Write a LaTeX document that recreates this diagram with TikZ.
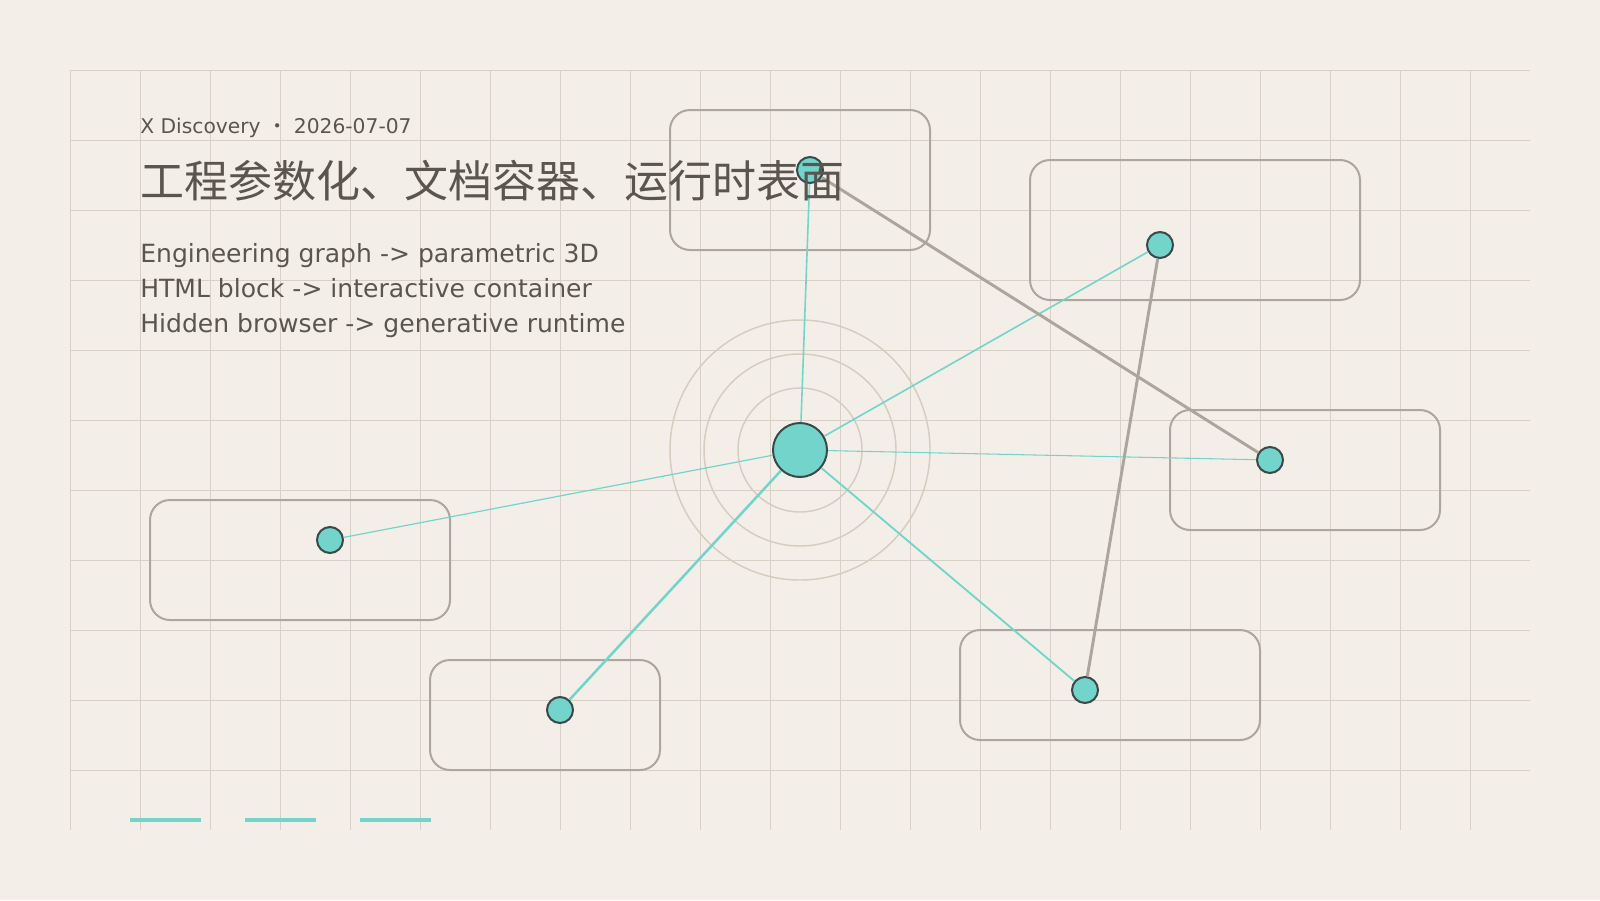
\documentclass[tikz,border=0pt]{standalone}
\usepackage{fontspec}
\setmainfont{DejaVu Sans}
\newfontfamily\cjkfont{Noto Sans CJK SC}
\definecolor{paper}{HTML}{F3EFE8}
\definecolor{gridc}{HTML}{D8D0C6}
\definecolor{panelc}{HTML}{ADA69E}
\definecolor{ringc}{HTML}{D6CCBF}
\definecolor{nodeteal}{HTML}{72D4CB}
\definecolor{ink}{HTML}{3B4848}
\definecolor{linkc}{HTML}{ABA59D}
\definecolor{textc}{HTML}{5B5550}

\begin{document}
\begin{tikzpicture}[x=0.75pt, y=-0.75pt,
    gridline/.style={draw=gridc, line width=0.75pt},
    panel/.style={draw=panelc, line width=1.5pt, rounded corners=15pt},
    ring/.style={draw=ringc, line width=1.1pt},
    hubnode/.style={circle, fill=nodeteal, draw=ink, line width=1.5pt, minimum size=40.5pt, inner sep=0pt},
    vertex/.style={circle, fill=nodeteal, draw=ink, line width=1.5pt, minimum size=19.5pt, inner sep=0pt},
    spoke/.style={draw=nodeteal, line width=1.2pt},
    link/.style={draw=linkc, line width=2.2pt},
    bar/.style={draw=nodeteal, line width=3.5pt},
    every node/.style={text=textc}]
    \fill[paper] (0,0) rectangle (1600,900);
    \foreach \x in {70,140,...,1470} \draw[gridline] (\x,70) -- (\x,830);
    \foreach \y in {70,140,...,770} \draw[gridline] (70,\y) -- (1530,\y);

    \draw[panel] (670,110) rectangle (930,250);
    \draw[panel] (1030,160) rectangle (1360,300);
    \draw[panel] (1170,410) rectangle (1440,530);
    \draw[panel] (150,500) rectangle (450,620);
    \draw[panel] (430,660) rectangle (660,770);
    \draw[panel] (960,630) rectangle (1260,740);

    \foreach \r in {62,96,130} \draw[ring] (800,450) circle (\r);

    \node[hubnode] (hub) at (800,450) {};
    \node[vertex] (top) at (810,170) {};
    \node[vertex] (upper) at (1160,245) {};
    \node[vertex] (right) at (1270,460) {};
    \node[vertex] (left) at (330,540) {};
    \node[vertex] (lowleft) at (560,710) {};
    \node[vertex] (lowright) at (1085,690) {};

    \draw[spoke] (hub) -- (top);
    \draw[spoke] (hub) -- (upper);
    \draw[spoke, line width=0.8pt] (hub) -- (right);
    \draw[spoke, line width=0.9pt] (hub) -- (left);
    \draw[spoke, line width=1.9pt] (hub) -- (lowleft);
    \draw[spoke, line width=1.4pt] (hub) -- (lowright);
    \draw[link] (top) -- (right);
    \draw[link] (upper) -- (lowright);

    \foreach \x in {130,245,360} \draw[bar] (\x,820) -- ++(71,0);

    \node[anchor=base west, inner sep=0pt, font=\fontsize{15.2}{20}\selectfont] (meta) at (140,133) {X Discovery {\cjkfont ・} 2026-07-07};
    \node[anchor=base west, inner sep=0pt, font=\cjkfont\fontsize{33}{40}\selectfont] (title) at (140,197) {工程参数化、文档容器、运行时表面};
    \node[anchor=base west, inner sep=0pt, font=\fontsize{18.8}{26}\selectfont] (line1) at (140,262) {Engineering graph -> parametric 3D};
    \node[anchor=base west, inner sep=0pt, font=\fontsize{18.8}{26}\selectfont] (line2) at (140,297) {HTML block -> interactive container};
    \node[anchor=base west, inner sep=0pt, font=\fontsize{18.8}{26}\selectfont] (line3) at (140,332) {Hidden browser -> generative runtime};
\end{tikzpicture}
\end{document}
